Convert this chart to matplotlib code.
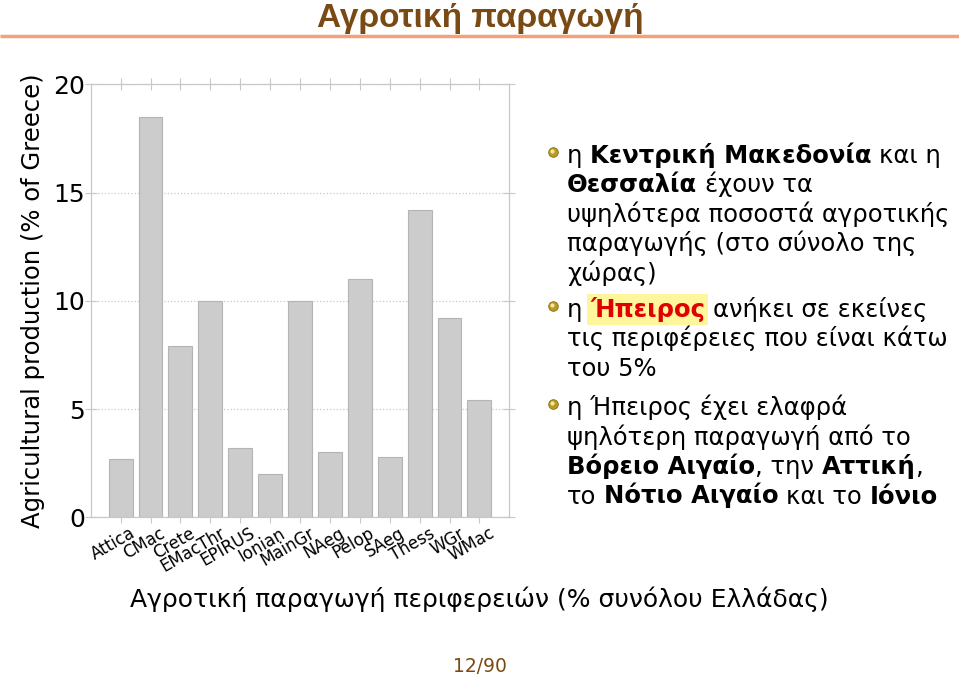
import matplotlib
matplotlib.use('Agg')
import matplotlib.pyplot as plt
import matplotlib.transforms as mtransforms
import numpy as np

# data
regions = ['Attica', 'CMac', 'Crete', 'EMacThr', 'EPIRUS', 'Ionian', 'MainGr',
           'NAeg', 'Pelop', 'SAeg', 'Thess', 'WGr', 'WMac']
share = [2.7, 18.5, 7.9, 10.0, 3.2, 2.0, 10.0, 3.0, 11.0, 2.8, 14.2, 9.2, 5.4]

title = 'Αγροτική παραγωγή'
ylabel = 'Agricultural production (% of Greece)'
xlabel = 'Αγροτική παραγωγή περιφερειών (% συνόλου Ελλάδας)'
page = '12/90'

# bullet text: each bullet is a list of lines, each line a list of (text, style)
bullets = [
    [[('η ', 'n'), ('Κεντρική Μακεδονία', 'b'), (' και η', 'n')],
     [('Θεσσαλία', 'b'), (' έχουν τα', 'n')],
     [('υψηλότερα ποσοστά αγροτικής', 'n')],
     [('παραγωγής (στο σύνολο της', 'n')],
     [('χώρας)', 'n')]],
    [[('η ', 'n'), ('Ήπειρος', 'h'), (' ανήκει σε εκείνες', 'n')],
     [('τις περιφέρειες που είναι κάτω', 'n')],
     [('του 5%', 'n')]],
    [[('η Ήπειρος έχει ελαφρά', 'n')],
     [('ψηλότερη παραγωγή από το', 'n')],
     [('Βόρειο Αιγαίο', 'b'), (', την ', 'n'), ('Αττική', 'b'), (',', 'n')],
     [('το ', 'n'), ('Νότιο Αιγαίο', 'b'), (' και το ', 'n'), ('Ιόνιο', 'b')]],
]

W, H = 959, 678
fig = plt.figure(figsize=(W / 100, H / 100), dpi=100)
plt.rcParams['font.family'] = ['DejaVu Sans']

# overlay in pixel coordinates
ov = fig.add_axes([0, 0, 1, 1])
ov.set_xlim(0, W)
ov.set_ylim(H, 0)
ov.axis('off')

brown = '#7A4A14'
ov.text(480, 27, title, ha='center', va='baseline', fontsize=24, fontweight='bold',
        color=brown, family=['Liberation Sans', 'DejaVu Sans'])
ov.plot([0, W], [36, 36], color='#F2A27A', lw=2.5, solid_capstyle='butt')
ov.text(480, 672, page, ha='center', va='baseline', fontsize=13.5, color=brown)

# bar chart
x0, x1, y0, y1 = 90.7, 509.3, 84.3, 517.3
ax = fig.add_axes([x0 / W, 1 - y1 / H, (x1 - x0) / W, (y1 - y0) / H])
pos = np.arange(len(regions))
ax.bar(pos, share, width=0.8, color='#CCCCCC', edgecolor='#B4B4B4', linewidth=0.8, zorder=2)
ax.set_xlim(-1, len(regions))
ax.set_ylim(0, 20)
ax.set_yticks([0, 5, 10, 15, 20])
ax.set_xticks(pos)
ax.set_xticklabels([])
# category labels, rotated, end a little right of each tick
lab_tr = mtransforms.offset_copy(ax.get_xaxis_transform(), fig=fig, x=9, y=-7, units='dots')
for p, name in zip(pos, regions):
    ax.text(p, 0, name, transform=lab_tr, rotation=30, ha='right', va='top',
            rotation_mode='anchor', fontsize=12)
ax.yaxis.grid(True, linestyle=':', color='#C8C8C8', lw=0.9, zorder=0)
for s in ax.spines.values():
    s.set_color('#C8C8C8')
    s.set_linewidth(0.9)
ax.tick_params(axis='both', direction='inout', length=8, color='#C8C8C8',
               top=True, right=True)
ax.tick_params(axis='y', labelsize=18, pad=0)
ax.set_ylabel(ylabel, fontsize=17.5, labelpad=6)
ov.text(479, 607, xlabel, ha='center', va='baseline', fontsize=18)

# bullets with mixed styles
renderer = fig.canvas.get_renderer()
fs = 17.5
bx, tx = 553, 567
baselines = [[163, 192, 222, 251.5, 281], [317, 346, 375.5], [415, 444.5, 474, 503.5]]


def width_of(s, weight):
    t = ov.text(0, 0, s, fontsize=fs, fontweight=weight)
    w = t.get_window_extent(renderer).width
    t.remove()
    return w


space_w = width_of('a a', 'normal') - width_of('aa', 'normal')

for lines, bls in zip(bullets, baselines):
    ov.scatter([bx], [bls[0] - 11], s=48, color='#B89A2A', edgecolor='#8A7010',
               linewidth=0.6, zorder=5)
    ov.scatter([bx - 1], [bls[0] - 12.5], s=9, color='#F4E8A0', linewidth=0, zorder=6)
    for parts, yb in zip(lines, bls):
        x = tx
        for txt, style in parts:
            lead = len(txt) - len(txt.lstrip(' '))
            trail = len(txt) - len(txt.rstrip(' '))
            x += lead * space_w
            core = txt.strip(' ')
            weight = 'bold' if style in ('b', 'h') else 'normal'
            color = '#E00000' if style == 'h' else 'black'
            kw = {}
            if style == 'h':
                kw['bbox'] = dict(boxstyle='square,pad=0.12', fc='#FFF59A', ec='none')
            t = ov.text(x, yb, core, fontsize=fs, fontweight=weight, color=color,
                        va='baseline', ha='left', **kw)
            x += t.get_window_extent(renderer).width
            x += trail * space_w

fig.savefig('out.png', dpi=100)
